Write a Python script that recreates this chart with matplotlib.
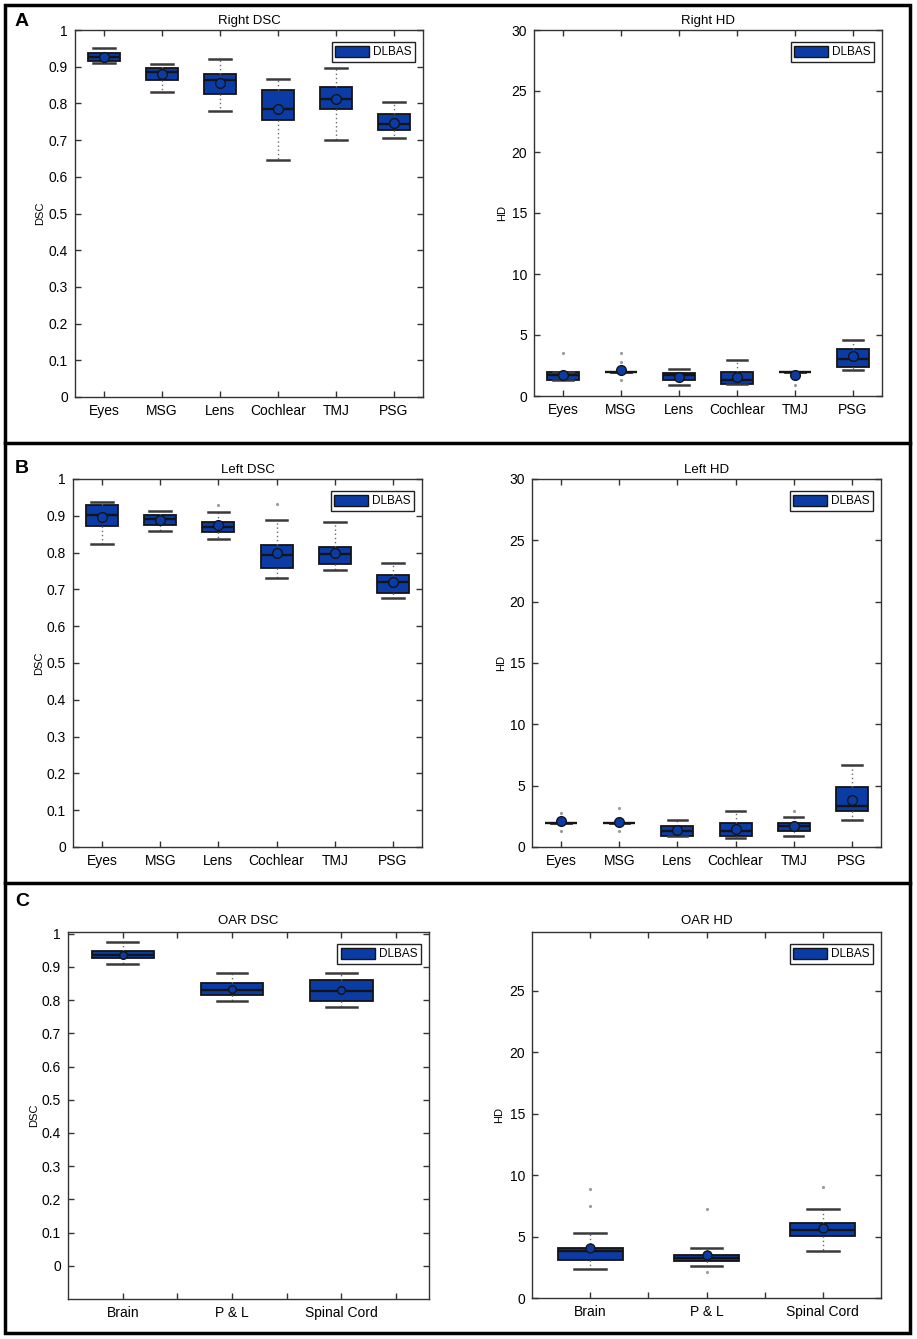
import matplotlib
matplotlib.use("Agg")
import matplotlib.pyplot as plt
from matplotlib import font_manager, ticker
from matplotlib.patches import Patch, Rectangle
from matplotlib.lines import Line2D

# ---------------- data ----------------
organs = ["Eyes", "MSG", "Lens", "Cochlear", "TMJ", "PSG"]
oars = ["Brain", "P & L", "Spinal Cord"]

# Right DSC
right_dsc_whislo = [0.911, 0.832, 0.780, 0.646, 0.700, 0.707]
right_dsc_q1 = [0.916, 0.865, 0.825, 0.755, 0.784, 0.727]
right_dsc_med = [0.926, 0.886, 0.865, 0.784, 0.811, 0.744]
right_dsc_q3 = [0.937, 0.896, 0.881, 0.836, 0.845, 0.771]
right_dsc_whishi = [0.950, 0.906, 0.920, 0.867, 0.897, 0.805]
right_dsc_mean = [0.927, 0.881, 0.856, 0.785, 0.812, 0.747]
right_dsc_fliers = [[], [], [], [], [], []]

# Right HD
right_hd_whislo = [1.34, 1.95, 0.93, 0.96, 1.95, 2.16]
right_hd_q1 = [1.34, 1.95, 1.34, 0.96, 1.95, 2.38]
right_hd_med = [1.70, 1.95, 1.70, 1.34, 1.95, 3.07]
right_hd_q3 = [1.97, 1.95, 1.92, 1.95, 1.95, 3.84]
right_hd_whishi = [1.97, 1.95, 2.19, 2.99, 1.95, 4.58]
right_hd_mean = [1.75, 2.10, 1.56, 1.53, 1.75, 3.26]
right_hd_fliers = [[3.56], [3.56, 2.8, 1.34], [], [], [0.93], []]

# Left DSC
left_dsc_whislo = [0.823, 0.860, 0.837, 0.732, 0.752, 0.677]
left_dsc_q1 = [0.871, 0.876, 0.855, 0.759, 0.768, 0.689]
left_dsc_med = [0.901, 0.890, 0.870, 0.794, 0.795, 0.719]
left_dsc_q3 = [0.928, 0.901, 0.884, 0.821, 0.814, 0.740]
left_dsc_whishi = [0.937, 0.914, 0.910, 0.889, 0.884, 0.771]
left_dsc_mean = [0.898, 0.889, 0.874, 0.800, 0.800, 0.719]
left_dsc_fliers = [[], [], [0.930], [0.932], [], []]

# Left HD
left_hd_whislo = [1.92, 1.92, 0.90, 0.74, 0.93, 2.19]
left_hd_q1 = [1.92, 1.92, 0.90, 0.90, 1.34, 2.93]
left_hd_med = [1.92, 1.92, 1.32, 1.32, 1.70, 3.37]
left_hd_q3 = [1.92, 1.92, 1.70, 1.92, 1.97, 4.93]
left_hd_whishi = [1.92, 1.92, 2.19, 2.93, 2.41, 6.68]
left_hd_mean = [2.14, 2.03, 1.42, 1.50, 1.70, 3.84]
left_hd_fliers = [[2.8, 1.3], [3.15, 1.3], [], [], [2.93], []]

# OAR DSC
oar_dsc_whislo = [0.909, 0.796, 0.780]
oar_dsc_q1 = [0.926, 0.816, 0.797]
oar_dsc_med = [0.936, 0.829, 0.826]
oar_dsc_q3 = [0.949, 0.850, 0.861]
oar_dsc_whishi = [0.974, 0.883, 0.883]
oar_dsc_mean = [0.936, 0.832, 0.829]
oar_dsc_fliers = [[], [], []]

# OAR HD
oar_hd_whislo = [2.33, 2.57, 3.82]
oar_hd_q1 = [3.06, 3.01, 5.04]
oar_hd_med = [3.79, 3.25, 5.50]
oar_hd_q3 = [4.06, 3.47, 6.07]
oar_hd_whishi = [5.28, 4.09, 7.26]
oar_hd_mean = [4.06, 3.47, 5.69]
oar_hd_fliers = [[8.88, 7.53], [7.26, 2.11], [9.07]]

# ---------------- style ----------------
names = {f.name for f in font_manager.fontManager.ttflist}
fam = "Liberation Sans Narrow" if "Liberation Sans Narrow" in names else "Liberation Sans"
plt.rcParams["font.family"] = [fam, "DejaVu Sans"]

BLUE = "#0b3ca6"
EDGE = "#141414"
W, H = 917, 1339

fig = plt.figure(figsize=(W / 100, H / 100), dpi=100)


def ax_at(x0, x1, y0, y1):
    return fig.add_axes([x0 / W, 1 - y1 / H, (x1 - x0) / W, (y1 - y0) / H])


def make_stats(labels, whislo, q1, med, q3, whishi, mean, fliers):
    out = []
    for i, lab in enumerate(labels):
        out.append(dict(label=lab, whislo=whislo[i], q1=q1[i], med=med[i],
                        q3=q3[i], whishi=whishi[i], mean=mean[i],
                        fliers=fliers[i]))
    return out


def draw(ax, labels, stats, width, capw, ms, xlim, ylim, yticks, title,
         ylabel, title_pad, fmt_dsc, minor=None, ylabel_x=-0.08):
    n = len(labels)
    pos = list(range(1, n + 1))
    ax.bxp(stats, positions=pos, widths=width, capwidths=capw,
           patch_artist=True, showmeans=True, manage_ticks=False,
           boxprops=dict(facecolor=BLUE, edgecolor=EDGE, linewidth=1.3),
           medianprops=dict(color=EDGE, linewidth=1.7),
           whiskerprops=dict(color="#6a6a6a", linestyle=(0, (1, 2)), linewidth=1.0),
           capprops=dict(color="#3a3a3a", linewidth=1.8),
           meanprops=dict(marker="o", markerfacecolor=BLUE, markeredgecolor=EDGE,
                          markersize=ms, markeredgewidth=1.0),
           flierprops=dict(marker=".", markersize=2.5, markerfacecolor="#9a9a9a",
                           markeredgecolor="#9a9a9a"))
    ax.set_xlim(*xlim)
    ax.set_ylim(*ylim)
    ax.set_xticks(pos)
    ax.set_xticklabels(labels)
    if minor is not None:
        ax.set_xticks(minor, minor=True)
    ax.set_yticks(yticks)
    if fmt_dsc:
        ax.yaxis.set_major_formatter(ticker.FuncFormatter(
            lambda v, p: f"{round(v, 1):g}"))
    ax.tick_params(direction="in", top=True, right=True, length=4, width=1,
                   labelsize=10, pad=5, color="#333333")
    ax.tick_params(which="minor", direction="in", top=True, bottom=True,
                   length=4, width=1, color="#333333")
    for s in ax.spines.values():
        s.set_color("#333333")
        s.set_linewidth(1.0)
    ax.set_title(title, fontsize=9.5, pad=title_pad)
    ax.set_ylabel(ylabel, fontsize=8)
    ax.yaxis.set_label_coords(ylabel_x, 0.5)
    leg = ax.legend(handles=[Patch(facecolor=BLUE, edgecolor=EDGE, label="DLBAS")],
                    loc="upper right", bbox_to_anchor=(1 - 8 / 348, 1 - 12 / 367),
                    borderaxespad=0, fancybox=False, framealpha=1,
                    edgecolor="#222222", fontsize=8.5, handlelength=2.9,
                    handleheight=1.15, borderpad=0.3, handletextpad=0.3)
    leg.get_frame().set_linewidth(1.0)


dsc_ticks = [i / 10 for i in range(11)]

# Panel A
ax = ax_at(75, 423, 30, 397)
draw(ax, organs, make_stats(organs, right_dsc_whislo, right_dsc_q1, right_dsc_med,
                            right_dsc_q3, right_dsc_whishi, right_dsc_mean, right_dsc_fliers),
     0.55, 0.37, 7, (0.5, 6.5), (0, 1), dsc_ticks, "Right DSC", "DSC", 4, True,
     ylabel_x=(45 - 75) / 348)
ax = ax_at(534, 882, 30, 396)
draw(ax, organs, make_stats(organs, right_hd_whislo, right_hd_q1, right_hd_med,
                            right_hd_q3, right_hd_whishi, right_hd_mean, right_hd_fliers),
     0.55, 0.33, 7, (0.5, 6.5), (0, 30), list(range(0, 31, 5)), "Right HD", "HD", 4, False,
     ylabel_x=(507 - 534) / 348)

# Panel B
ax = ax_at(73, 422, 479, 847)
draw(ax, organs, make_stats(organs, left_dsc_whislo, left_dsc_q1, left_dsc_med,
                            left_dsc_q3, left_dsc_whishi, left_dsc_mean, left_dsc_fliers),
     0.55, 0.37, 7, (0.5, 6.5), (0, 1), dsc_ticks, "Left DSC", "DSC", 4, True,
     ylabel_x=(44 - 73) / 349)
ax = ax_at(532, 881, 479, 847)
draw(ax, organs, make_stats(organs, left_hd_whislo, left_hd_q1, left_hd_med,
                            left_hd_q3, left_hd_whishi, left_hd_mean, left_hd_fliers),
     0.55, 0.33, 7, (0.5, 6.5), (0, 30), list(range(0, 31, 5)), "Left HD", "HD", 4, False,
     ylabel_x=(506 - 532) / 349)

# Panel C
ax = ax_at(68, 429, 932, 1299)
draw(ax, oars, make_stats(oars, oar_dsc_whislo, oar_dsc_q1, oar_dsc_med,
                          oar_dsc_q3, oar_dsc_whishi, oar_dsc_mean, oar_dsc_fliers),
     0.57, 0.28, 5.5, (0.5, 3.8), (-0.1, 1.005), dsc_ticks, "OAR DSC", "DSC", 6, True,
     minor=[1.5, 2.5, 3.5], ylabel_x=(39 - 68) / 361)
ax = ax_at(532, 881, 932, 1298)
draw(ax, oars, make_stats(oars, oar_hd_whislo, oar_hd_q1, oar_hd_med,
                          oar_hd_q3, oar_hd_whishi, oar_hd_mean, oar_hd_fliers),
     0.56, 0.27, 6.5, (0.5, 3.5), (0, 29.8), list(range(0, 26, 5)), "OAR HD", "HD", 6, False,
     minor=[1.5, 2.5], ylabel_x=(504 - 532) / 349)

# Frames and panel letters
fig.add_artist(Rectangle((5 / W, 1 - 1333 / H), (910 - 5) / W, (1333 - 5) / H,
                         transform=fig.transFigure, fill=False, lw=2.5, ec="black"))
for yy in (443, 883):
    fig.add_artist(Line2D([5 / W, 910 / W], [1 - yy / H] * 2,
                          transform=fig.transFigure, lw=2.5, color="black"))
for letter, yy in (("A", 22), ("B", 468), ("C", 902)):
    fig.text(22 / W, 1 - yy / H, letter, fontsize=14, fontweight="bold",
             ha="center", va="center", family=["Liberation Sans", "DejaVu Sans"])

fig.savefig("out.png", dpi=100, facecolor="white")
